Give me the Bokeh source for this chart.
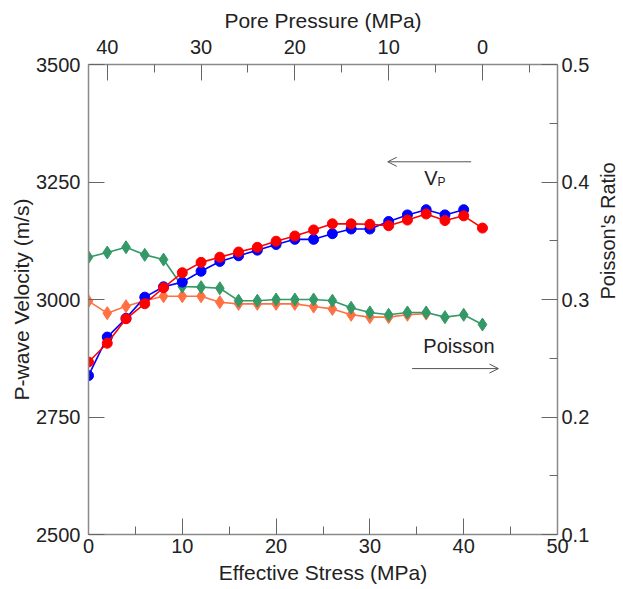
import math
from bokeh.plotting import figure
from bokeh.models import (Range1d, LinearAxis, FixedTicker, Arrow, OpenHead, Label)
from bokeh.embed import file_html
from bokeh.resources import INLINE

# ---- data ----
stress_vp_blue = [0, 2, 4, 6, 8, 10, 12, 14, 16, 18, 20, 22, 24, 26, 28, 30, 32, 34, 36, 38, 40]
vp_blue = [2838, 2920, 2960, 3005, 3027, 3037, 3060, 3081, 3093, 3105, 3117, 3128, 3128,
           3140, 3150, 3150, 3166, 3180, 3191, 3180, 3191]
stress_vp_red = [0, 2, 4, 6, 8, 10, 12, 14, 16, 18, 20, 22, 24, 26, 28, 30, 32, 34, 36, 38, 40, 42]
vp_red = [2867, 2907, 2959, 2991, 3025, 3057, 3079, 3090, 3101, 3111, 3124, 3135, 3148,
          3161, 3161, 3160, 3157, 3169, 3182, 3168, 3178, 3152]
stress_nu_green = [0, 2, 4, 6, 8, 10, 12, 14, 16, 18, 20, 22, 24, 26, 28, 30, 32, 34, 36, 38, 40, 42]
nu_green = [0.336, 0.340, 0.3445, 0.338, 0.334, 0.311, 0.3105, 0.3096, 0.299, 0.299, 0.300,
            0.300, 0.300, 0.299, 0.293, 0.289, 0.287, 0.289, 0.289, 0.285, 0.287, 0.2787]
stress_nu_orange = [0, 2, 4, 6, 8, 10, 12, 14, 16, 18, 20, 22, 24, 26, 28, 30, 32, 34, 36]
nu_orange = [0.2986, 0.2884, 0.2943, 0.299, 0.3028, 0.3028, 0.3028, 0.2977, 0.2963, 0.2963,
             0.2963, 0.2963, 0.294, 0.292, 0.287, 0.285, 0.285, 0.287, 0.288]

x_ticks = [0, 10, 20, 30, 40, 50]
x_minor = [5, 15, 25, 35, 45]
pore_ticks = [40, 30, 20, 10, 0]
pore_minor = [35, 25, 15, 5, -5]
vp_ticks = [2500, 2750, 3000, 3250, 3500]
nu_ticks = [0.1, 0.2, 0.3, 0.4, 0.5]
nu_minor = [0.15, 0.25, 0.35, 0.45]

FONT = "Liberation Sans"
AX = "#8a8a8a"
TK = "#666666"
TXT = "#222222"

p = figure(frame_width=469, frame_height=470,
           min_border_left=88, min_border_right=65, min_border_top=64, min_border_bottom=55,
           x_range=Range1d(0, 50), y_range=Range1d(2500, 3500),
           output_backend="svg", toolbar_location=None,
           x_axis_location=None, y_axis_location=None)
p.extra_x_ranges = {"pore": Range1d(42, -8)}
p.extra_y_ranges = {"nu": Range1d(0.1, 0.5)}
p.outline_line_color = None
p.xgrid.visible = False
p.ygrid.visible = False

def style(ax, major, minor, title, tick_standoff, label_standoff, title_size="21px"):
    ax.ticker = FixedTicker(ticks=major, minor_ticks=minor)
    ax.axis_label = title
    ax.axis_label_text_font = FONT
    ax.axis_label_text_font_size = title_size
    ax.axis_label_text_font_style = "normal"
    ax.axis_label_text_color = TXT
    ax.axis_label_standoff = label_standoff
    ax.major_label_text_font = FONT
    ax.major_label_text_font_size = "20px"
    ax.major_label_text_color = TXT
    ax.major_label_standoff = tick_standoff
    ax.axis_line_color = AX
    ax.axis_line_width = 1.5
    ax.major_tick_line_color = TK
    ax.minor_tick_line_color = TK
    ax.major_tick_in = 16
    ax.major_tick_out = 0
    ax.minor_tick_in = 8
    ax.minor_tick_out = 0

bottom = LinearAxis()
style(bottom, x_ticks, x_minor, "Effective Stress (MPa)", 4, 5)
p.add_layout(bottom, "below")

top = LinearAxis(x_range_name="pore")
style(top, pore_ticks, pore_minor, "Pore Pressure (MPa)", 11, 5)
p.add_layout(top, "above")

left = LinearAxis()
style(left, vp_ticks, [], "P-wave Velocity (m/s)", 8, 0)
p.add_layout(left, "left")

right = LinearAxis(y_range_name="nu")
style(right, nu_ticks, nu_minor, "Poisson's Ratio", 4, 16, title_size="20px")
right.axis_label_orientation = math.pi / 2
p.add_layout(right, "right")

GREEN = "#339966"
ORANGE = "#ff7043"

p.line(stress_nu_orange, nu_orange, y_range_name="nu", line_color=ORANGE, line_width=1.6)
p.scatter(stress_nu_orange, nu_orange, y_range_name="nu", marker="diamond", size=13,
          fill_color=ORANGE, line_color=ORANGE)
p.line(stress_nu_green, nu_green, y_range_name="nu", line_color=GREEN, line_width=1.6)
p.scatter(stress_nu_green, nu_green, y_range_name="nu", marker="diamond", size=13,
          fill_color=GREEN, line_color=GREEN)

p.line(stress_vp_blue, vp_blue, line_color="#0000ff", line_width=1.6)
p.scatter(stress_vp_blue, vp_blue, marker="circle", size=10, fill_color="#0000ff", line_color="#0000ff")
p.line(stress_vp_red, vp_red, line_color="#ff0000", line_width=1.6)
p.scatter(stress_vp_red, vp_red, marker="circle", size=10, fill_color="#ff0000", line_color="#ff0000")

# annotations
ARR = "#555555"
p.add_layout(Arrow(x_start=40.8, y_start=3293, x_end=31.9, y_end=3293,
                   line_color=ARR, line_width=1,
                   end=OpenHead(size=9, line_color=ARR, line_width=1)))
p.add_layout(Label(x=35.8, y=3258, text="V", text_font=FONT, text_font_size="20px",
                   text_color=TXT, text_baseline="alphabetic"))
p.add_layout(Label(x=37.2, y=3250, text="P", text_font=FONT, text_font_size="12px",
                   text_color=TXT, text_baseline="alphabetic"))
p.add_layout(Label(x=35.7, y=2901, text="Poisson", text_font=FONT, text_font_size="20px",
                   text_color=TXT, text_baseline="alphabetic"))
p.add_layout(Arrow(x_start=34.5, y_start=2853, x_end=43.7, y_end=2853,
                   line_color=ARR, line_width=1,
                   end=OpenHead(size=9, line_color=ARR, line_width=1)))

open("out.html", "w").write(file_html(p, INLINE))
